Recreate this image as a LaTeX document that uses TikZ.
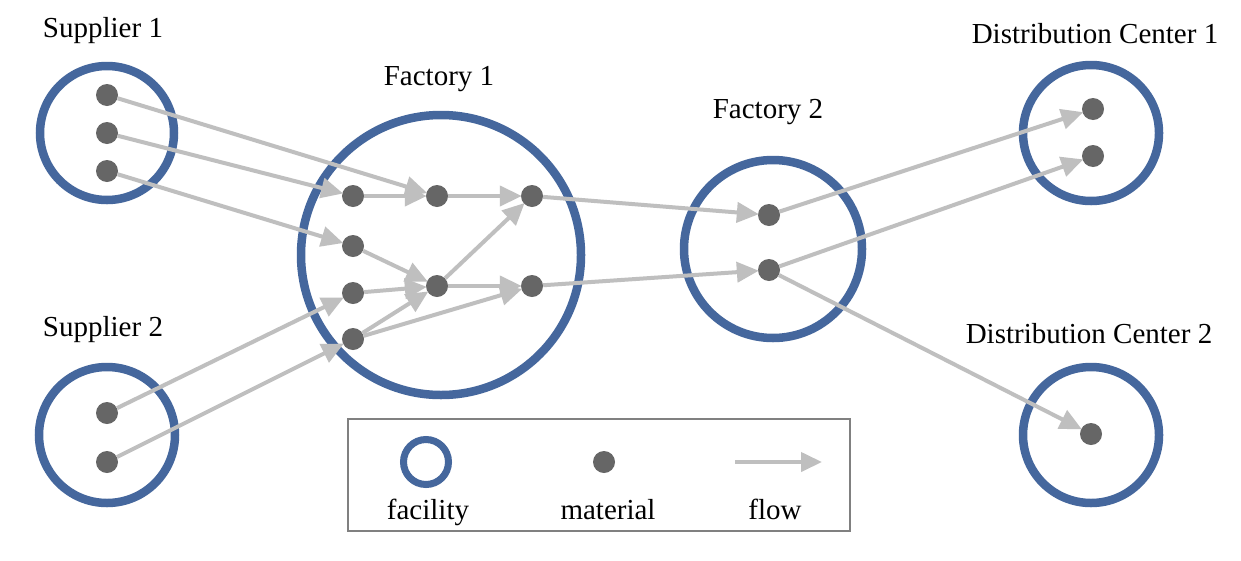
\documentclass[tikz,border=0pt]{standalone}
\usepackage{fontspec}
\setmainfont{Liberation Serif}
\usetikzlibrary{arrows.meta}
\definecolor{facblue}{RGB}{69,103,157}
\definecolor{matgray}{RGB}{102,102,102}
\definecolor{flowgray}{RGB}{191,191,191}
\definecolor{boxgray}{RGB}{128,128,128}
\tikzset{
  facility/.style={circle, draw=facblue, line width=8.5pt, inner sep=0pt, fill=none},
  material/.style={circle, fill=matgray, inner sep=0pt, minimum size=22pt},
  flow/.style={draw=flowgray, line width=4pt, shorten >=-1pt, -{Triangle[length=22pt,width=20pt]}},
  lbl/.style={anchor=base, inner sep=0pt, font=\fontsize{29}{33}\selectfont},
}
\begin{document}
\begin{tikzpicture}[x=1pt,y=-1pt]
\useasboundingbox[fill=white] (0,0) rectangle (1241,560);
% facilities
\node[facility, minimum size=134pt] (S1) at (107,133) {};
\node[facility, minimum size=136pt] (S2) at (107,435) {};
\node[facility, minimum size=280pt] (F1) at (441,255) {};
\node[facility, minimum size=178pt] (F2) at (773,249) {};
\node[facility, minimum size=136pt] (D1) at (1091,133) {};
\node[facility, minimum size=136pt] (D2) at (1091,435) {};
% labels
\node[lbl] (lS1) at (103,37) {Supplier 1};
\node[lbl] (lS2) at (103,336) {Supplier 2};
\node[lbl] (lF1) at (439,85) {Factory 1};
\node[lbl] (lF2) at (768,118) {Factory 2};
\node[lbl] (lD1) at (1095,43) {Distribution Center 1};
\node[lbl] (lD2) at (1089,343) {Distribution Center 2};
% materials
\node[material] (s1a) at (107,95) {};
\node[material] (s1b) at (107,133) {};
\node[material] (s1c) at (107,171) {};
\node[material] (s2a) at (107,413) {};
\node[material] (s2b) at (107,462) {};
\node[material] (f1a) at (353,196) {};
\node[material] (f1b) at (437,196) {};
\node[material] (f1c) at (532,196) {};
\node[material] (f1d) at (353,246) {};
\node[material] (f1e) at (353,293) {};
\node[material] (f1f) at (353,339) {};
\node[material] (f1g) at (437,286) {};
\node[material] (f1h) at (532,286) {};
\node[material] (f2a) at (769,215) {};
\node[material] (f2b) at (769,270) {};
\node[material] (d1a) at (1093,109) {};
\node[material] (d1b) at (1093,156) {};
\node[material] (d2a) at (1091,434) {};
% flows
\draw[flow] (s1a) -- (f1b);
\draw[flow] (s1b) -- (f1a);
\draw[flow] (s1c) -- (f1d);
\draw[flow] (s2a) -- (f1e);
\draw[flow] (s2b) -- (f1f);
\draw[flow] (f1a) -- (f1b);
\draw[flow] (f1b) -- (f1c);
\draw[flow] (f1d) -- (f1g);
\draw[flow] (f1e) -- (f1g);
\draw[flow] (f1f) -- (f1g);
\draw[flow] (f1f) -- (f1h);
\draw[flow] (f1g) -- (f1c);
\draw[flow] (f1g) -- (f1h);
\draw[flow] (f1c) -- (f2a);
\draw[flow] (f1h) -- (f2b);
\draw[flow] (f2a) -- (d1a);
\draw[flow] (f2b) -- (d1b);
\draw[flow] (f2b) -- (d2a);
% legend
\node[draw=boxgray, line width=2pt, minimum width=502pt, minimum height=112pt, inner sep=0pt] (legend) at (599,475) {};
\node[facility, line width=7pt, minimum size=45pt] (legfac) at (426,462) {};
\node[material] (legmat) at (604,462) {};
\coordinate (legflowA) at (735,462);
\coordinate (legflowB) at (822,462);
\draw[flow, shorten >=0pt, -{Triangle[length=21pt,width=19pt]}] (legflowA) -- (legflowB);
\node[lbl] (lfac) at (428,519) {facility};
\node[lbl] (lmat) at (608,519) {material};
\node[lbl] (lflow) at (775,519) {flow};
\end{tikzpicture}
\end{document}
